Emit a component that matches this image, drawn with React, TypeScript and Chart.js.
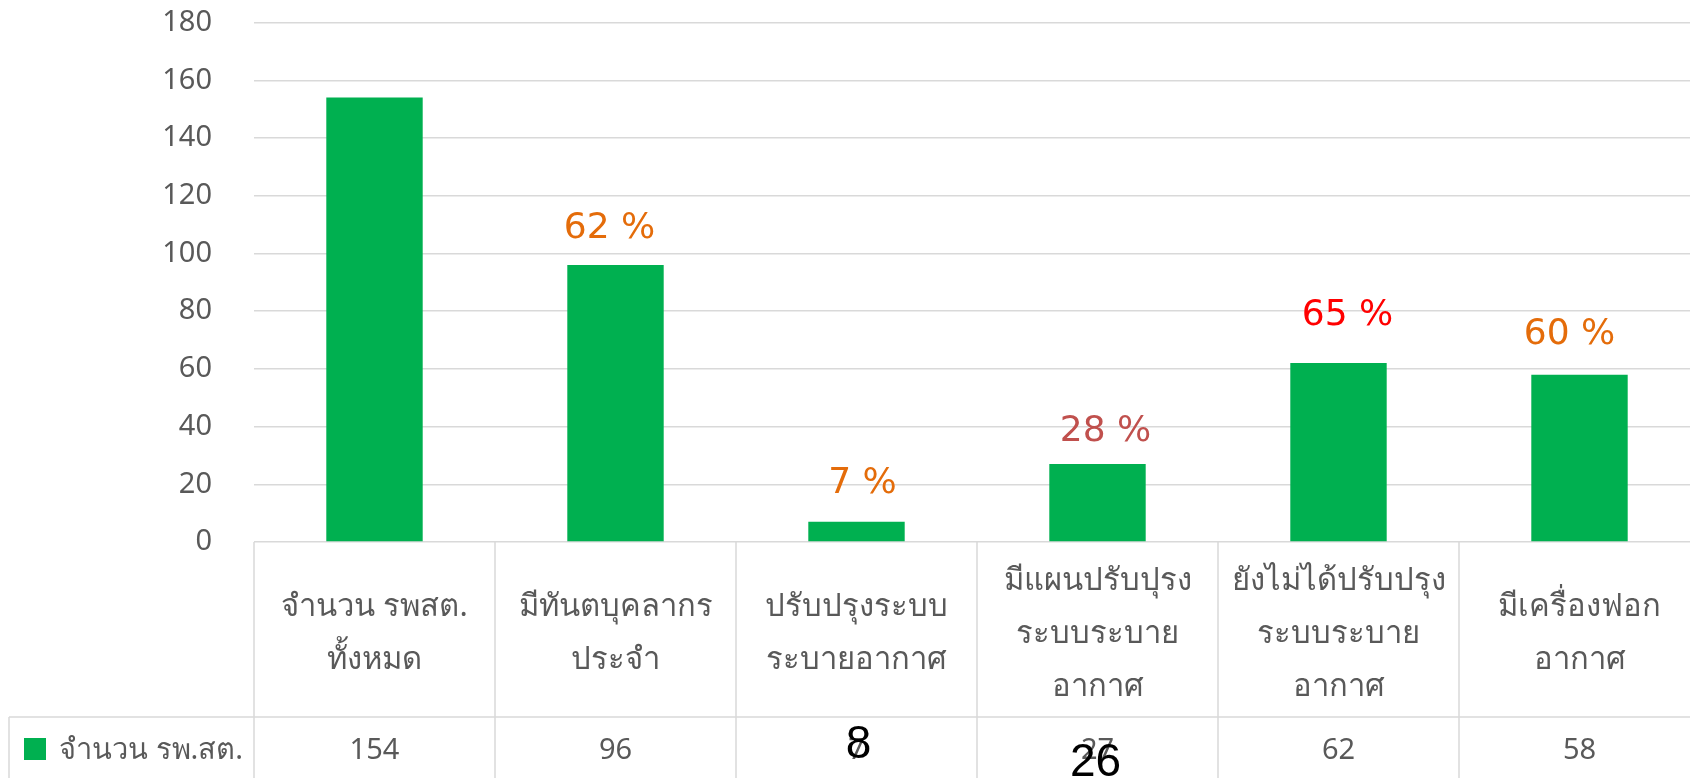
import React, { useEffect, useRef } from "react";
import { Chart, registerables } from "chart.js";
Chart.register(...registerables);

const categories: string[][] = [
  ["จำนวน รพสต.", "ทั้งหมด"],
  ["มีทันตบุคลากร", "ประจำ"],
  ["ปรับปรุงระบบ", "ระบายอากาศ"],
  ["มีแผนปรับปุรง", "ระบบระบาย", "อากาศ"],
  ["ยังไม่ได้ปรับปรุง", "ระบบระบาย", "อากาศ"],
  ["มีเครื่องฟอก", "อากาศ"],
];
const seriesName = "จำนวน รพ.สต.";
const values = [154, 96, 7, 27, 62, 58];
const percentLabels = ["", "62 %", "7 %", "28 %", "65 %", "60 %"];
const percentColors = ["", "#E46C0A", "#E46C0A", "#C0504D", "#FF0000", "#E46C0A"];
const overlayLabels = ["", "", "8", "26", "", ""];
const yMin = 0;
const yMax = 180;
const yStep = 20;

// styling / placement tweaks (pixels)
const pctDx = [0, -6, 6, 8, 9, -10];
const pctDy = [0, 36, 38, 32, 47, 40];
const overlayDy = [0, 0, -6, 12, 0, 0];
const overlayDx = [0, 0, 2, -2, 0, 0];

const THAI_FONT = "'Noto Sans', 'DejaVu Sans', sans-serif";
const GRAY = "#595959";
const GRID = "#D9D9D9";
const GREEN = "#00B050";

const tablePlugin = {
  id: "dataTable",
  afterDraw(chart: any) {
    const ctx = chart.ctx;
    const area = chart.chartArea;
    const meta = chart.getDatasetMeta(0);
    const n = categories.length;
    const colW = (area.right - area.left) / n;
    const top = area.bottom;
    const rowDiv = 717;
    const bottom = 800;
    ctx.save();
    ctx.strokeStyle = GRID;
    ctx.lineWidth = 1.5;
    for (let i = 0; i <= n; i++) {
      const x = area.left + i * colW;
      ctx.beginPath();
      ctx.moveTo(x, top);
      ctx.lineTo(x, bottom);
      ctx.stroke();
    }
    ctx.beginPath();
    ctx.moveTo(9, rowDiv);
    ctx.lineTo(area.right, rowDiv);
    ctx.stroke();
    ctx.beginPath();
    ctx.moveTo(9, rowDiv);
    ctx.lineTo(9, bottom);
    ctx.stroke();

    // category labels
    ctx.fillStyle = GRAY;
    ctx.font = `31px ${THAI_FONT}`;
    ctx.textAlign = "center";
    ctx.textBaseline = "middle";
    const lh = 53;
    const cy = 634;
    categories.forEach((lines, i) => {
      const x = meta.data[i].x;
      const start = cy - ((lines.length - 1) * lh) / 2;
      lines.forEach((l, j) => ctx.fillText(l, x, start + j * lh));
    });

    // legend cell
    const rowY = 751;
    ctx.fillStyle = GREEN;
    ctx.fillRect(24, 738, 22, 22);
    ctx.fillStyle = GRAY;
    ctx.textAlign = "left";
    ctx.font = `29px ${THAI_FONT}`;
    ctx.fillText(seriesName, 59, rowY);

    // values
    ctx.textAlign = "center";
    ctx.font = `29px ${THAI_FONT}`;
    values.forEach((v, i) => {
      ctx.fillText(String(v), meta.data[i].x, rowY);
    });

    // overlay labels
    ctx.fillStyle = "#000000";
    ctx.font = `46px 'Liberation Sans', Arial, sans-serif`;
    overlayLabels.forEach((t, i) => {
      if (!t) return;
      ctx.fillText(t, meta.data[i].x + overlayDx[i], rowY + overlayDy[i]);
    });

    // percent labels
    ctx.font = `36px 'DejaVu Sans', sans-serif`;
    percentLabels.forEach((t, i) => {
      if (!t) return;
      const el = meta.data[i];
      ctx.fillStyle = percentColors[i];
      ctx.fillText(t, el.x + pctDx[i], el.y - pctDy[i]);
    });
    ctx.restore();
  },
};

export default function App() {
  const ref = useRef<HTMLCanvasElement | null>(null);
  useEffect(() => {
    if (!ref.current) return;
    const chart = new Chart(ref.current, {
      type: "bar",
      data: {
        labels: categories.map((c) => c.join(" ")),
        datasets: [
          {
            label: seriesName,
            data: values,
            backgroundColor: GREEN,
            barPercentage: 0.4,
            categoryPercentage: 1,
          },
        ],
      },
      options: {
        responsive: false,
        animation: false,
        devicePixelRatio: 1,
        layout: { padding: { top: 22.6, bottom: 236, left: 0, right: 0 } },
        plugins: { legend: { display: false }, tooltip: { enabled: false } },
        scales: {
          x: { display: false },
          y: {
            min: yMin,
            max: yMax,
            ticks: {
              stepSize: yStep,
              padding: 42,
              color: GRAY,
              font: { size: 29, family: THAI_FONT },
            },
            grid: { color: GRID, lineWidth: 1.5, drawTicks: false },
            border: { display: false },
            afterFit: (scale: any) => {
              scale.width = 254;
              scale.paddingTop = 0;
              scale.paddingBottom = 0;
            },
          },
        },
      },
      plugins: [tablePlugin],
    });
    return () => chart.destroy();
  }, []);
  return (
    <div style={{ position: "fixed", left: 0, top: 0, width: 1700, height: 778, background: "#fff" }}>
      <canvas ref={ref} width={1700} height={778} style={{ display: "block" }} />
    </div>
  );
}
